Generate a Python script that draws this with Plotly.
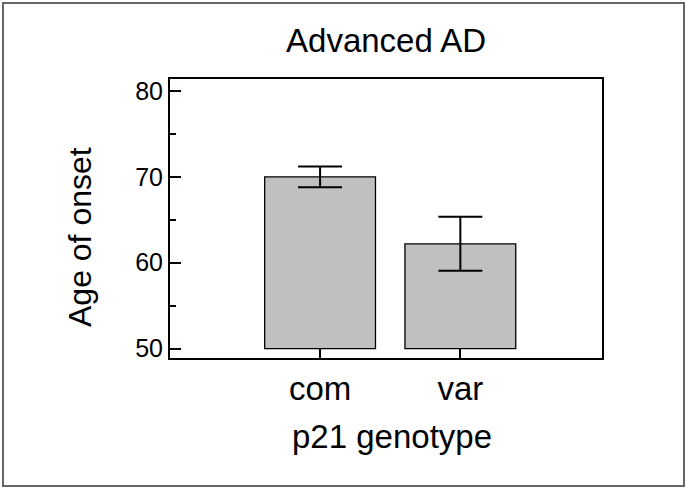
import plotly.graph_objects as go

categories = ["com", "var"]
mean_age = [70.0, 62.2]
err_age = [1.2, 3.15]
bar_base = 50

W, H = 686, 489
L, R, T, B = 170, 602, 79, 358  # plot area pixel edges

def px(x):
    return (x - L) / (R - L)

def py(y):
    return (B - y) / (B - T)

fig = go.Figure()
fig.add_trace(go.Bar(
    x=categories,
    y=[m - bar_base for m in mean_age],
    base=bar_base,
    width=0.79,
    marker=dict(color="#c0c0c0", line=dict(color="black", width=1.3)),
    hoverinfo="skip",
))
fig.add_trace(go.Scatter(
    x=categories,
    y=mean_age,
    mode="markers",
    marker=dict(size=1, opacity=0),
    error_y=dict(type="data", array=err_age, visible=True, color="black", thickness=2, width=22),
    hoverinfo="skip",
))

font = "Liberation Sans, Arial, sans-serif"
fig.update_layout(
    width=W, height=H,
    margin=dict(l=L, r=W - R, t=T, b=H - B, pad=0),
    paper_bgcolor="white", plot_bgcolor="white",
    showlegend=False,
    font=dict(family=font, color="black", size=24),
    title=dict(text="Advanced AD", x=(L + R) / 2 / W, xanchor="center", xref="container",
               y=1 - 40 / H, yanchor="middle", yref="container",
               font=dict(size=33, family=font, color="black")),
    xaxis=dict(range=[-1.07, 2.01], showline=True, linecolor="black", linewidth=2, mirror=True,
               ticks="inside", ticklen=9, tickwidth=1.5, tickcolor="black",
               tickfont=dict(size=33), showgrid=False, zeroline=False),
    yaxis=dict(range=[48.9, 81.4], showline=True, linecolor="black", linewidth=2, mirror=True,
               ticks="inside", ticklen=11, tickwidth=1.5, tickcolor="black",
               tickvals=[50, 60, 70, 80], tickfont=dict(size=25),
               minor=dict(tickvals=[55, 65, 75], ticks="inside", ticklen=6, tickwidth=1.5, tickcolor="black"),
               showgrid=False, zeroline=False),
    annotations=[
        dict(text="Age of onset", textangle=-90, x=px(80), y=py(237), xref="paper", yref="paper",
             showarrow=False, xanchor="center", yanchor="middle", font=dict(size=32)),
        dict(text="p21 genotype", x=px(392), y=py(436), xref="paper", yref="paper",
             showarrow=False, xanchor="center", yanchor="middle", font=dict(size=33)),
    ],
    shapes=[dict(type="rect", xref="paper", yref="paper",
                 x0=px(3), x1=px(684), y0=py(486), y1=py(3),
                 line=dict(color="#666666", width=2), fillcolor="rgba(0,0,0,0)", layer="below")],
)
fig.write_html("out.html", config={"displayModeBar": False},
               post_script="document.body.style.margin='0';")
